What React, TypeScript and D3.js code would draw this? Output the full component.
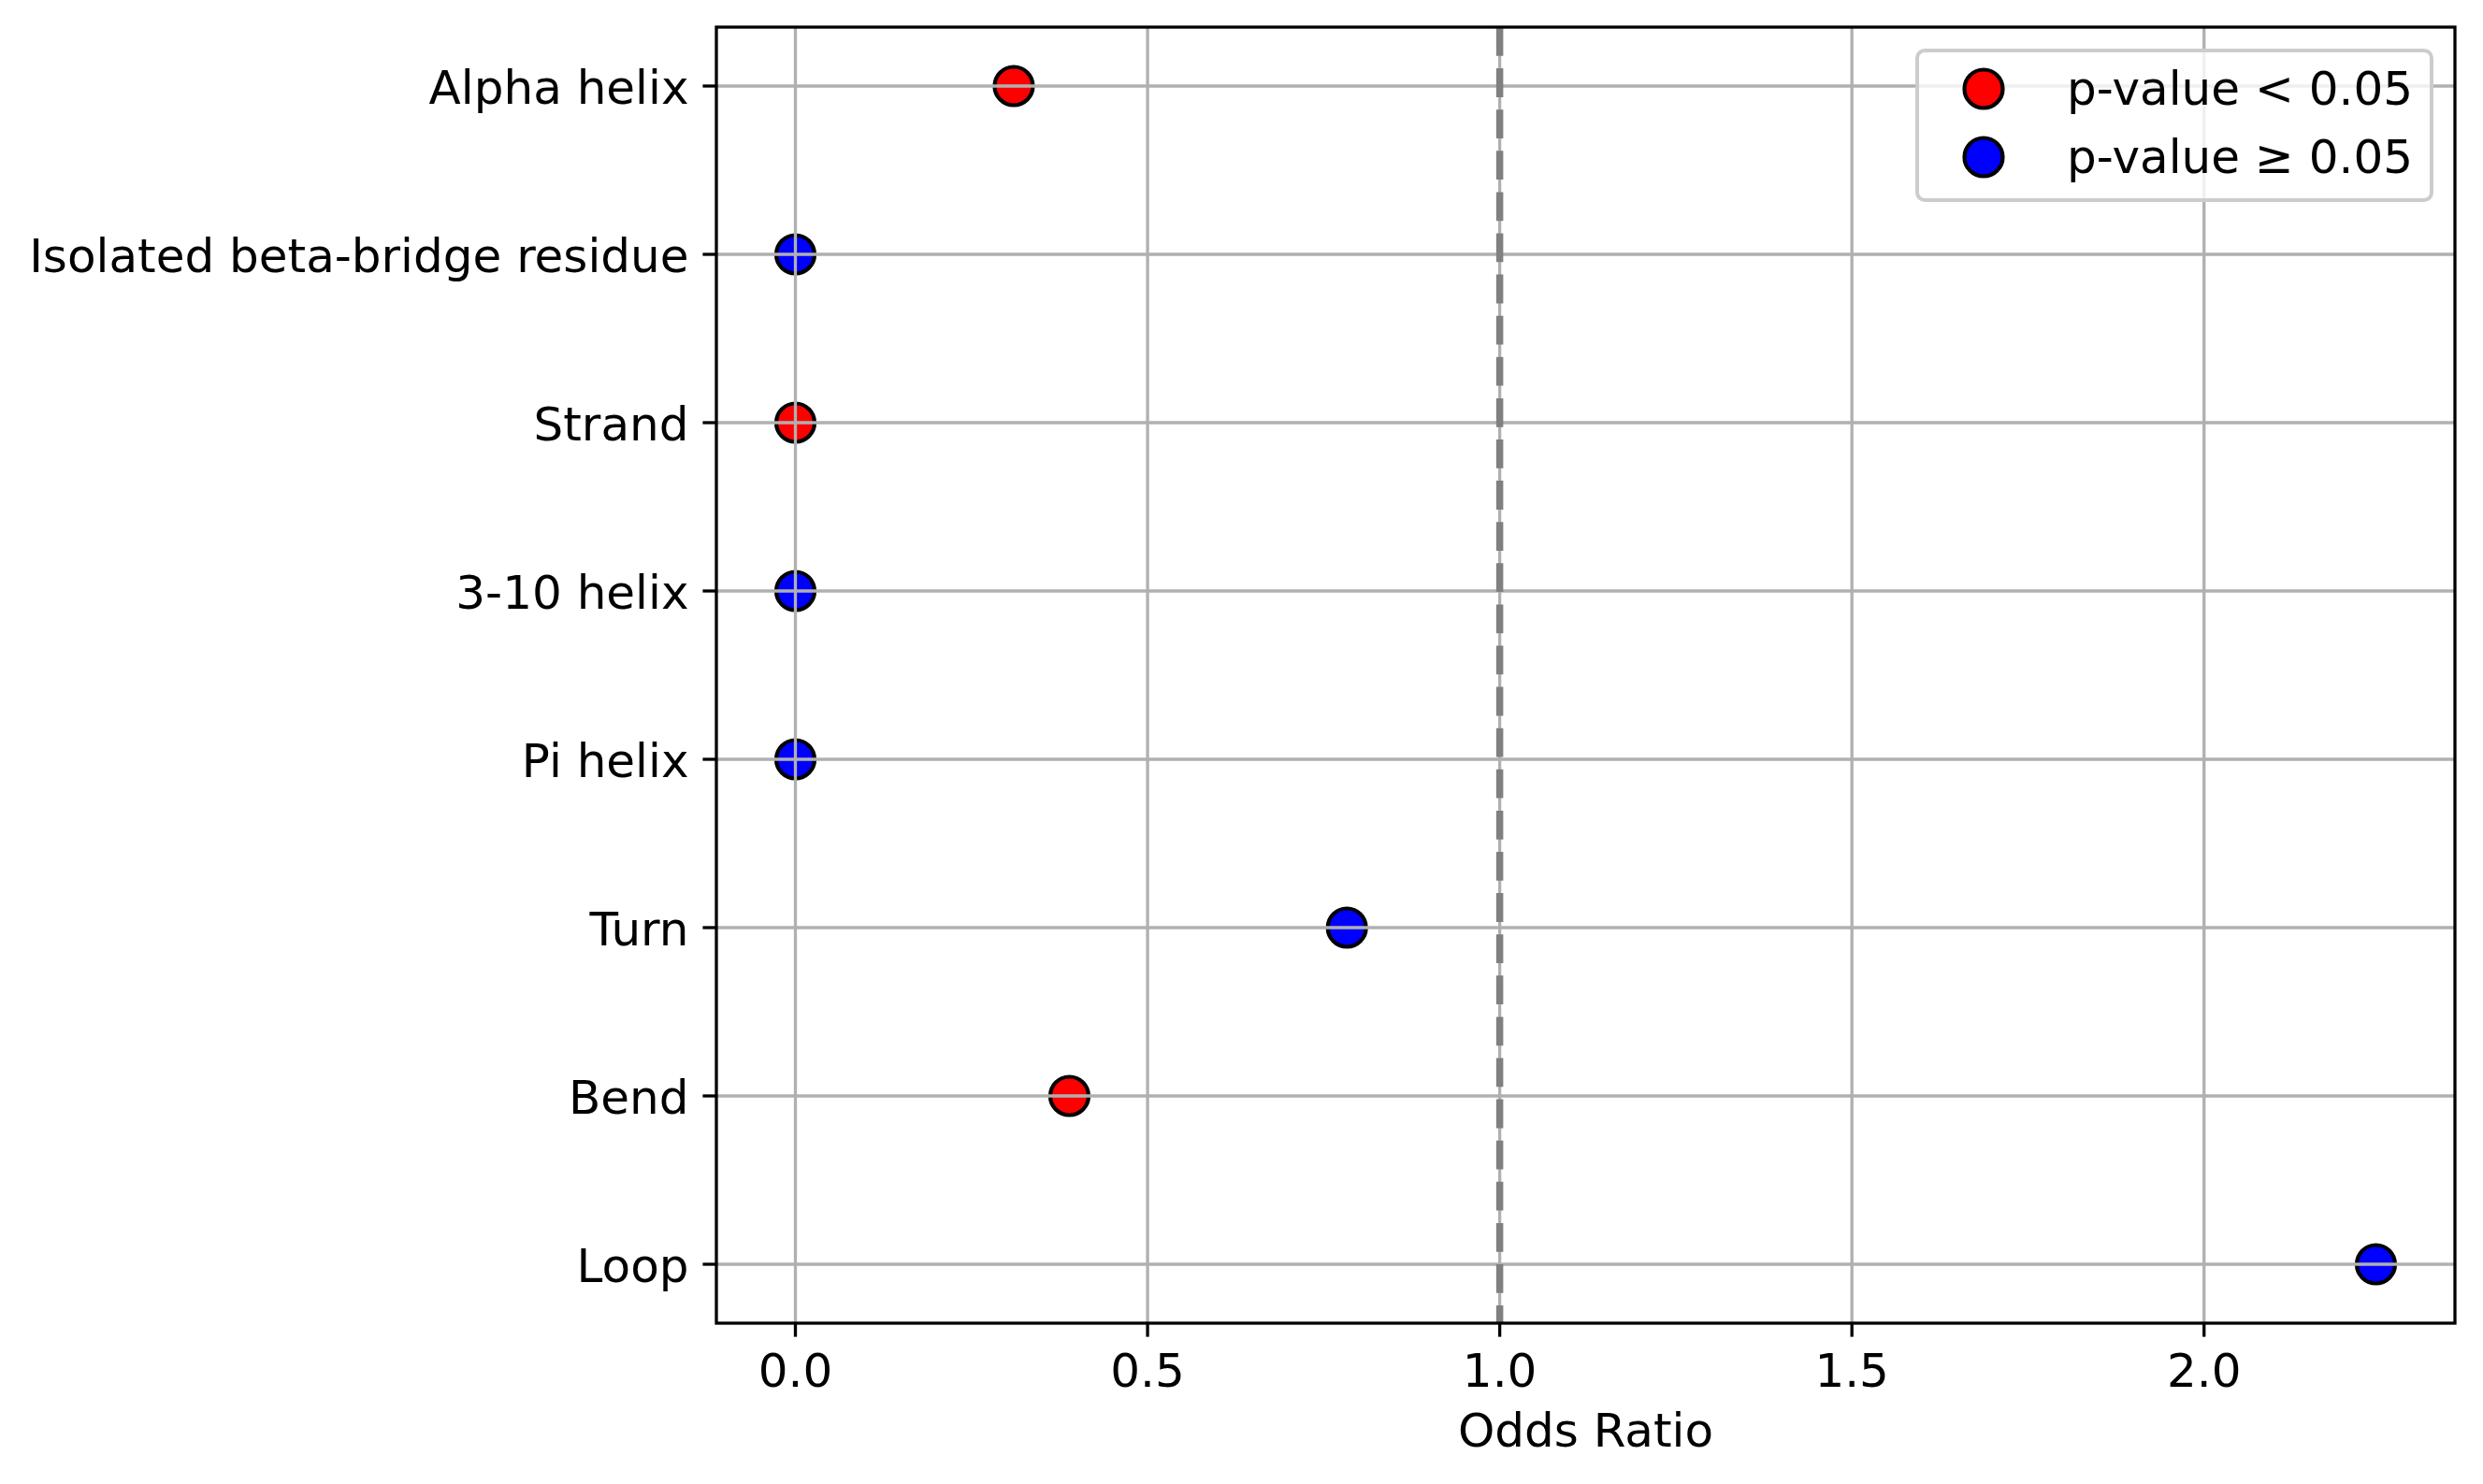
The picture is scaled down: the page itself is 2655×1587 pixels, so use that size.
import React, { useEffect, useRef } from 'react';
import * as d3 from 'd3';

// secondary structure categories, top to bottom
const categories: string[] = [
  'Alpha helix',
  'Isolated beta-bridge residue',
  'Strand',
  '3-10 helix',
  'Pi helix',
  'Turn',
  'Bend',
  'Loop',
];
const oddsRatios: number[] = [0.31, 0, 0, 0, 0, 0.783, 0.389, 2.244];
const significant: boolean[] = [true, false, true, false, false, false, true, false];
const xTicks: number[] = [0, 0.5, 1.0, 1.5, 2.0];
const legendLabels: string[] = ['p-value < 0.05', 'p-value \u2265 0.05'];
const legendColors: string[] = ['#ff0000', '#0000ff'];

const WIDTH = 2655;
const HEIGHT = 1587;
const FONT = '"DejaVu Sans", sans-serif';

const App: React.FC = () => {
  const svgRef = useRef<SVGSVGElement | null>(null);

  useEffect(() => {
    const margin = { top: 29, right: 30, bottom: 172, left: 766 };
    const x0 = margin.left;
    const x1 = WIDTH - margin.right;
    const y0 = margin.top;
    const y1 = HEIGHT - margin.bottom;

    const svg = d3.select(svgRef.current);
    svg.selectAll('*').remove();

    const maxVal = d3.max(oddsRatios)!;
    const pad = maxVal * 0.05;
    const xScale = d3.scaleLinear().domain([-pad, maxVal + pad]).range([x0, x1]);
    const yScale = d3.scalePoint<string>().domain(categories).range([y0, y1]).padding(0.35);

    svg.append('rect').attr('width', WIDTH).attr('height', HEIGHT).attr('fill', '#fff');

    // markers (drawn under the grid, as in the source)
    svg
      .append('g')
      .selectAll('circle')
      .data(categories)
      .enter()
      .append('circle')
      .attr('cx', (_d, i) => xScale(oddsRatios[i]))
      .attr('cy', (d) => yScale(d)!)
      .attr('r', 20.5)
      .attr('fill', (_d, i) => (significant[i] ? legendColors[0] : legendColors[1]))
      .attr('stroke', '#000')
      .attr('stroke-width', 4.2);

    // grid
    const grid = svg.append('g').attr('stroke', '#b0b0b0').attr('stroke-width', 3.3);
    grid
      .selectAll('line.vx')
      .data(xTicks)
      .enter()
      .append('line')
      .attr('x1', (d) => xScale(d))
      .attr('x2', (d) => xScale(d))
      .attr('y1', y0)
      .attr('y2', y1);
    grid
      .selectAll('line.hy')
      .data(categories)
      .enter()
      .append('line')
      .attr('x1', x0)
      .attr('x2', x1)
      .attr('y1', (d) => yScale(d)!)
      .attr('y2', (d) => yScale(d)!);

    // reference line at OR = 1
    svg
      .append('line')
      .attr('x1', xScale(1))
      .attr('x2', xScale(1))
      .attr('y1', y0)
      .attr('y2', y1)
      .attr('stroke', '#808080')
      .attr('stroke-width', 7.5)
      .attr('stroke-dasharray', '30.8,13.3');

    // spines
    svg
      .append('rect')
      .attr('x', x0)
      .attr('y', y0)
      .attr('width', x1 - x0)
      .attr('height', y1 - y0)
      .attr('fill', 'none')
      .attr('stroke', '#000')
      .attr('stroke-width', 3.3);

    // x axis
    const xAxis = svg.append('g');
    xTicks.forEach((t) => {
      xAxis
        .append('line')
        .attr('x1', xScale(t))
        .attr('x2', xScale(t))
        .attr('y1', y1)
        .attr('y2', y1 + 14.6)
        .attr('stroke', '#000')
        .attr('stroke-width', 3.3);
      xAxis
        .append('text')
        .attr('x', xScale(t))
        .attr('y', y1 + 68)
        .attr('text-anchor', 'middle')
        .attr('font-family', FONT)
        .attr('font-size', 50)
        .text(d3.format('.1f')(t));
    });
    xAxis
      .append('text')
      .attr('x', (x0 + x1) / 2)
      .attr('y', y1 + 132)
      .attr('text-anchor', 'middle')
      .attr('font-family', FONT)
      .attr('font-size', 50)
      .text('Odds Ratio');

    // y axis
    const yAxis = svg.append('g');
    categories.forEach((c) => {
      const y = yScale(c)!;
      yAxis
        .append('line')
        .attr('x1', x0 - 14.6)
        .attr('x2', x0)
        .attr('y1', y)
        .attr('y2', y)
        .attr('stroke', '#000')
        .attr('stroke-width', 3.3);
      yAxis
        .append('text')
        .attr('x', x0 - 29.5)
        .attr('y', y + 19)
        .attr('text-anchor', 'end')
        .attr('font-family', FONT)
        .attr('font-size', 50)
        .text(c);
    });

    // legend
    const lg = svg.append('g');
    lg.append('rect')
      .attr('x', 2050)
      .attr('y', 54)
      .attr('width', x1 - 25 - 2050)
      .attr('height', 160)
      .attr('rx', 8)
      .attr('fill', 'rgba(255,255,255,0.8)')
      .attr('stroke', '#cccccc')
      .attr('stroke-width', 4);
    legendLabels.forEach((label, i) => {
      const cy = 95 + i * 73;
      lg.append('circle')
        .attr('cx', 2121)
        .attr('cy', cy)
        .attr('r', 20.5)
        .attr('fill', legendColors[i])
        .attr('stroke', '#000')
        .attr('stroke-width', 4.2);
      lg.append('text')
        .attr('x', 2210)
        .attr('y', cy + 17)
        .attr('font-family', FONT)
        .attr('font-size', 50)
        .text(label);
    });
  }, []);

  return (
    <svg
      ref={svgRef}
      width={WIDTH}
      height={HEIGHT}
      style={{ position: 'fixed', top: 0, left: 0, display: 'block' }}
    ></svg>
  );
};

export default App;
